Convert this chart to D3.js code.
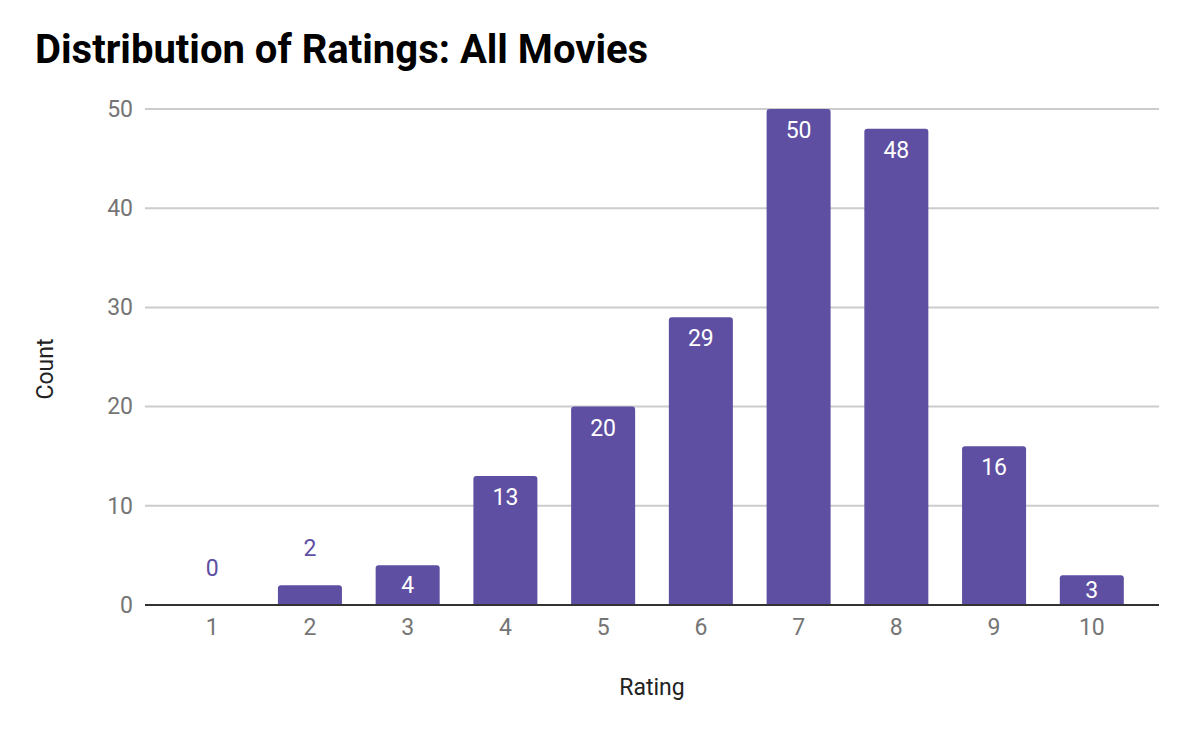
<!DOCTYPE html>
<html>
<head>
<meta charset="utf-8">
<script src="https://cdn.jsdelivr.net/npm/d3@7"></script>
<style>
  body { margin: 0; background: #fff; }
  text { font-family: Roboto, sans-serif; }
</style>
</head>
<body>
<div class="plot"></div>
<script>
var ratings = ["1", "2", "3", "4", "5", "6", "7", "8", "9", "10"];
var counts = [0, 2, 4, 13, 20, 29, 50, 48, 16, 3];
var yTicks = [0, 10, 20, 30, 40, 50];

var width = 1192, height = 730;
var plotLeft = 145, plotRight = 1159, plotTop = 109, plotBottom = 605;
var barColor = "#5e4fa2";

var svg = d3.select(".plot").append("svg")
  .attr("width", width)
  .attr("height", height);

var x = d3.scaleBand()
  .domain(ratings)
  .range([plotLeft, plotRight])
  .paddingInner(0.345)
  .paddingOuter(0.36);

var y = d3.scaleLinear()
  .domain([0, 50])
  .range([plotBottom, plotTop]);

// title
svg.append("text")
  .attr("x", 35)
  .attr("y", 63)
  .style("font-size", "40px")
  .style("font-weight", "bold")
  .style("fill", "#000")
  .text("Distribution of Ratings: All Movies");

// gridlines
svg.append("g")
  .selectAll("line")
  .data(yTicks.filter(function(d) { return d > 0; }))
  .enter()
  .append("line")
  .attr("x1", plotLeft)
  .attr("x2", plotRight)
  .attr("y1", function(d) { return y(d); })
  .attr("y2", function(d) { return y(d); })
  .style("stroke", "#cccccc")
  .style("stroke-width", 2);

// y axis labels
var yAxis = svg.append("g")
  .attr("transform", "translate(" + plotLeft + ",0)")
  .call(d3.axisLeft(y).tickValues(yTicks).tickSize(0).tickPadding(12));
yAxis.select(".domain").remove();
yAxis.selectAll("text")
  .style("font-size", "23px")
  .style("fill", "#757575")
  .style("font-family", "Roboto, sans-serif");

// bars, rounded top corners
var r = 3;
svg.append("g")
  .selectAll("path")
  .data(counts)
  .enter()
  .append("path")
  .attr("d", function(d, i) {
    var x0 = x(ratings[i]), w = x.bandwidth();
    var y0 = y(d), h = y(0) - y(d);
    if (h <= 0) return "";
    var rr = Math.min(r, h);
    return "M" + x0 + "," + (y0 + h) +
      "V" + (y0 + rr) +
      "Q" + x0 + "," + y0 + " " + (x0 + rr) + "," + y0 +
      "H" + (x0 + w - rr) +
      "Q" + (x0 + w) + "," + y0 + " " + (x0 + w) + "," + (y0 + rr) +
      "V" + (y0 + h) + "Z";
  })
  .style("fill", barColor);

// value labels: inside bar when it fits, else above
function fits(d) { return (y(0) - y(d)) >= 25; }
svg.append("g")
  .selectAll("text")
  .data(counts)
  .enter()
  .append("text")
  .attr("x", function(d, i) { return x(ratings[i]) + x.bandwidth() / 2; })
  .attr("y", function(d) {
    if (fits(d)) return Math.min(y(d) + 29, (y(d) + y(0)) / 2 + 7.5);
    return y(d) - 29;
  })
  .attr("text-anchor", "middle")
  .style("font-size", "23px")
  .style("fill", function(d) { return fits(d) ? "#fff" : barColor; })
  .text(function(d) { return d; });

// baseline
svg.append("line")
  .attr("x1", plotLeft)
  .attr("x2", plotRight)
  .attr("y1", y(0))
  .attr("y2", y(0))
  .style("stroke", "#333")
  .style("stroke-width", 2);

// x axis labels
var xAxis = svg.append("g")
  .attr("transform", "translate(0," + y(0) + ")")
  .call(d3.axisBottom(x).tickSize(0).tickPadding(14));
xAxis.select(".domain").remove();
xAxis.selectAll("text")
  .style("font-size", "23px")
  .style("fill", "#757575")
  .style("font-family", "Roboto, sans-serif");

// axis titles
svg.append("text")
  .attr("x", (plotLeft + plotRight) / 2)
  .attr("y", 695)
  .attr("text-anchor", "middle")
  .style("font-size", "23px")
  .style("fill", "#222")
  .text("Rating");

svg.append("text")
  .attr("transform", "translate(53,369) rotate(-90)")
  .attr("text-anchor", "middle")
  .style("font-size", "23px")
  .style("fill", "#222")
  .text("Count");
</script>
</body>
</html>
